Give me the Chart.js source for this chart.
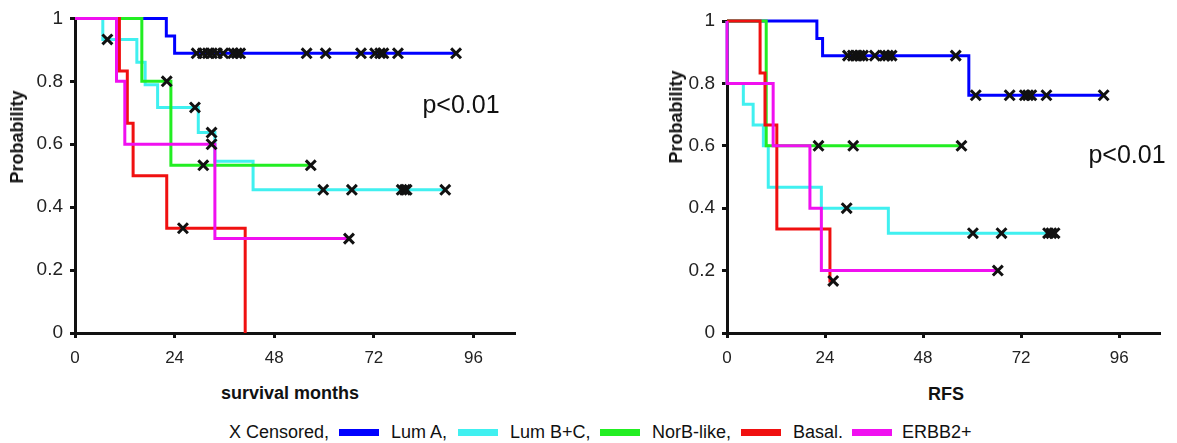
<!DOCTYPE html>
<html>
<head>
<meta charset="utf-8">
<script src="https://cdn.jsdelivr.net/npm/chart.js@4"></script>
<style>
  body { margin: 0; background: #fff; width: 1177px; height: 443px; overflow: hidden;
         font-family: "Liberation Sans", Arial, sans-serif; color: #111; }
  .box { position: absolute; }
  .lbl { position: absolute; white-space: nowrap; transform: translate(-50%, -50%); line-height: 1; }
  .ytitle { position: absolute; white-space: nowrap; font-weight: bold; font-size: 18px; line-height: 1;
            transform: translate(-50%, -50%) rotate(-90deg); }
  .sw { position: absolute; height: 7px; width: 40px; }
  .lg { position: absolute; font-size: 18px; line-height: 1; white-space: nowrap; transform: translateY(-50%); }
</style>
</head>
<body>

<div class="box" style="left:0;top:0;width:540px;height:380px"><canvas id="os" width="540" height="380"></canvas></div>
<div class="box" style="left:652px;top:0;width:525px;height:380px"><canvas id="rfs" width="525" height="380"></canvas></div>

<div class="ytitle" style="left:17px;top:137px">Probability</div>
<div class="ytitle" style="left:676px;top:117px">Probability</div>
<div class="lbl" style="left:290px;top:393px;font-weight:bold;font-size:18px">survival months</div>
<div class="lbl" style="left:946px;top:394px;font-weight:bold;font-size:18px">RFS</div>
<div class="lbl" style="left:461px;top:104px;font-size:25px">p&lt;0.01</div>
<div class="lbl" style="left:1127px;top:154px;font-size:25px">p&lt;0.01</div>

<div id="legend"></div>

<script>
const groups = ["Lum A,", "Lum B+C,", "NorB-like,", "Basal.", "ERBB2+"];
const groupColors = ["#0000ff", "#40f0f0", "#22ee22", "#f01010", "#f010f0"];

const monthTicks = [0, 24, 48, 72, 96];
const probTicks = [0, 0.2, 0.4, 0.6, 0.8, 1];
const probLabels = ["0", "0.2", "0.4", "0.6", "0.8", "1"];

/* ---------- OVERALL SURVIVAL (event times, survival after event, censored times) ---------- */
const osLumATimes = [22, 24];
const osLumASurv = [0.944, 0.889];
const osLumACens = [29.3, 30.8, 32, 33, 34.2, 35.7, 38.1, 39, 39.8, 55.8, 60.4, 68.9, 72.3, 73.5, 74.3, 77.8, 91.8];

const osLumBCTimes = [6.7, 14.9, 16.9, 19.9, 29.7, 33.7, 42.9];
const osLumBCSurv = [0.933, 0.861, 0.789, 0.717, 0.637, 0.546, 0.455];
const osLumBCCens = [7.8, 28.9, 32.9, 59.8, 66.7, 78.7, 79.5, 79.9, 89.2];

const osNorBTimes = [16.1, 23.1];
const osNorBSurv = [0.8, 0.533];
const osNorBCens = [22.1, 30.9, 56.8];

const osBasalTimes = [10.7, 12.6, 14, 22.1, 41];
const osBasalSurv = [0.833, 0.667, 0.5, 0.333, 0];
const osBasalCens = [26];

const osErbbTimes = [10, 12, 33.7];
const osErbbSurv = [0.8, 0.6, 0.3];
const osErbbCens = [32.9, 66];

/* ---------- RELAPSE FREE SURVIVAL ---------- */
const rfsLumATimes = [22, 23.4, 59.2];
const rfsLumASurv = [0.944, 0.889, 0.762];
const rfsLumACens = [29.6, 30.8, 31.8, 32.5, 33.3, 36.2, 38.6, 39.4, 40.3, 56, 60.9, 69.2, 72.9, 73.7, 74.5, 78.2, 92.2];

const rfsLumBCTimes = [0, 0, 4, 6.4, 8.9, 10.1, 23.1, 39.5];
const rfsLumBCSurv = [0.867, 0.8, 0.733, 0.667, 0.6, 0.467, 0.4, 0.32];
const rfsLumBCCens = [29.3, 60.2, 67.2, 78.6, 79.4, 80.2];

const rfsNorBTimes = [9.6];
const rfsNorBSurv = [0.6];
const rfsNorBCens = [22.4, 30.9, 57.4];

const rfsBasalTimes = [8.1, 9.3, 12.2, 25.2];
const rfsBasalSurv = [0.833, 0.667, 0.333, 0.167];
const rfsBasalCens = [26];

const rfsErbbTimes = [0, 11.3, 20.3, 23.1];
const rfsErbbSurv = [0.8, 0.6, 0.4, 0.2];
const rfsErbbCens = [66.3];

/* ---------- HELPERS ---------- */

function survAt(times, surv, t) {
  let s = 1;
  times.forEach((e, i) => { if (e <= t) s = surv[i]; });
  return s;
}

function curve(times, surv, cens) {
  const pts = [{ x: 0, y: 1 }];
  times.forEach((t, i) => pts.push({ x: t, y: surv[i] }));
  const end = Math.max(times[times.length - 1], ...cens);
  pts.push({ x: end, y: pts[pts.length - 1].y });
  return pts;
}

function buildDatasets(sets) {
  // sets in group order; draw censor marks on top, then magenta, red, green, cyan, blue
  const marks = [];
  const lines = [];
  [4, 3, 2, 1, 0].forEach(g => {
    const [times, surv, cens] = sets[g];
    marks.push({
      data: cens.map(c => ({ x: c, y: survAt(times, surv, c) })),
      showLine: false,
      pointStyle: 'crossRot',
      pointRadius: 7,
      pointBorderWidth: 3,
      pointBorderColor: '#111',
      borderColor: '#111',
      clip: false
    });
    lines.push({
      data: curve(times, surv, cens),
      stepped: true,
      borderColor: groupColors[g],
      borderWidth: 3,
      pointRadius: 0,
      fill: false,
      clip: false
    });
  });
  return marks.concat(lines);
}

function makeChart(id, sets, pad) {
  return new Chart(document.getElementById(id), {
    type: 'line',
    data: { datasets: buildDatasets(sets) },
    options: {
      responsive: false,
      animation: false,
      events: [],
      layout: { padding: pad },
      plugins: { legend: { display: false }, tooltip: { enabled: false } },
      scales: {
        x: {
          type: 'linear',
          min: 0,
          max: 106,
          afterBuildTicks: s => { s.ticks = monthTicks.map(v => ({ value: v })); },
          afterFit: s => { s.height = 380 - 333; },
          grid: { drawOnChartArea: false, drawTicks: true, tickLength: 5, tickWidth: 3, tickColor: '#111' },
          border: { display: true, width: 3, color: '#111' },
          ticks: { color: '#222', padding: 10, maxRotation: 0, font: { size: 17, family: 'Liberation Sans, Arial' } }
        },
        y: {
          type: 'linear',
          min: 0,
          max: 1,
          afterBuildTicks: s => { s.ticks = probTicks.map(v => ({ value: v })); },
          afterFit: s => { s.width = 75; },
          grid: { drawOnChartArea: false, drawTicks: true, tickLength: 5, tickWidth: 3, tickColor: '#111' },
          border: { display: true, width: 3, color: '#111' },
          ticks: {
            color: '#222',
            padding: 7,
            font: { size: 19, family: 'Liberation Sans, Arial' },
            callback: (v, i) => probLabels[i]
          }
        }
      }
    }
  });
}

makeChart('os', [
  [osLumATimes, osLumASurv, osLumACens],
  [osLumBCTimes, osLumBCSurv, osLumBCCens],
  [osNorBTimes, osNorBSurv, osNorBCens],
  [osBasalTimes, osBasalSurv, osBasalCens],
  [osErbbTimes, osErbbSurv, osErbbCens]
], { top: 16, right: 25, left: 0, bottom: 0 });

makeChart('rfs', [
  [rfsLumATimes, rfsLumASurv, rfsLumACens],
  [rfsLumBCTimes, rfsLumBCSurv, rfsLumBCCens],
  [rfsNorBTimes, rfsNorBSurv, rfsNorBCens],
  [rfsBasalTimes, rfsBasalSurv, rfsBasalCens],
  [rfsErbbTimes, rfsErbbSurv, rfsErbbCens]
], { top: 21, right: 17, left: 0, bottom: 0 });

/* ---------- LEGEND ---------- */
const legendY = 432;
const legendLeft = [229, 339, 391, 458, 510, 600, 652, 741, 793, 852, 902];
const lg = document.getElementById('legend');
let html = `<div class="lg" style="left:${legendLeft[0]}px;top:${legendY}px">X Censored,</div>`;
groups.forEach((g, i) => {
  html += `<div class="sw" style="left:${legendLeft[1 + i * 2]}px;top:${legendY - 3}px;background:${groupColors[i]}"></div>`;
  html += `<div class="lg" style="left:${legendLeft[2 + i * 2]}px;top:${legendY}px">${g}</div>`;
});
lg.innerHTML = html;
</script>
</body>
</html>
